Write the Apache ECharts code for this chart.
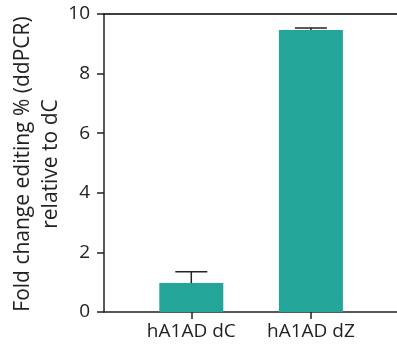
<!DOCTYPE html>
<html>
<head>
<meta charset="utf-8">
<script src="https://cdn.jsdelivr.net/npm/echarts@6/dist/echarts.min.js"></script>
<style>
  html, body { margin: 0; padding: 0; background: #fff; }
  #chart { width: 397px; height: 345px; }
</style>
</head>
<body>
<div id="chart"></div>
<script>
// data
const categories = ['hA1AD dC', 'hA1AD dZ']
const foldChange = [0.97, 9.46]
const errorUp = [0.38, 0.07]
const yTicks = [0, 2, 4, 6, 8, 10]
const yTitle = ['Fold change editing % (ddPCR)', 'relative to dC']

const barColor = '#23a599'
const ink = '#222222'
const font = 'Open Sans'

const chart = echarts.init(document.getElementById('chart'))

// bars sit on a value x axis so the axis line can run past the two bands
const barData = foldChange.map((v, i) => [i + 1, v])
const errData = foldChange.map((v, i) => [i + 1, v, v + errorUp[i]])

// rotated y title, one text per line
const titleX = [23, 51]
const titleGraphics = yTitle.map((line, i) => ({
  type: 'text',
  x: titleX[i],
  y: 164,
  rotation: Math.PI / 2,
  style: {
    text: line,
    fill: ink,
    font: `21px "${font}"`,
    textAlign: 'center',
    textVerticalAlign: 'middle',
  },
}))

const option = {
  animation: false,
  backgroundColor: '#fff',
  textStyle: { fontFamily: font },
  grid: { left: 104, right: 0, top: 14, bottom: 33, outerBoundsMode: 'none' },
  graphic: titleGraphics,
  xAxis: [
    {
      type: 'value',
      min: 0.27,
      max: 2.72,
      splitLine: { show: false },
      axisLine: { show: true, onZero: false, lineStyle: { color: ink, width: 1.5 } },
      axisTick: { show: true, length: 7, customValues: [1, 2], lineStyle: { color: ink, width: 1.5 } },
      axisLabel: {
        customValues: [1, 2],
        formatter: v => categories[Math.round(v) - 1] || '',
        color: ink,
        fontSize: 19,
        fontFamily: font,
        margin: 10,
      },
    },
    {
      // plain top rule of the frame
      type: 'value',
      position: 'top',
      min: 0.27,
      max: 2.72,
      splitLine: { show: false },
      axisLine: { show: true, onZero: false, lineStyle: { color: '#000', width: 1.5 } },
      axisTick: { show: false },
      axisLabel: { show: false },
    },
  ],
  yAxis: {
    type: 'value',
    min: 0,
    max: 10,
    interval: 2,
    splitLine: { show: false },
    axisLine: { show: true, lineStyle: { color: ink, width: 1.5 } },
    axisTick: { show: true, length: 7, customValues: yTicks, lineStyle: { color: ink, width: 1.5 } },
    axisLabel: { color: ink, fontSize: 19, fontFamily: font, margin: 14, customValues: yTicks },
  },
  series: [
    {
      type: 'bar',
      data: barData,
      barWidth: 64,
      itemStyle: { color: barColor },
    },
    {
      type: 'custom',
      data: errData,
      z: 3,
      renderItem: function (params, api) {
        const x = api.value(0)
        const lo = api.coord([x, api.value(1)])
        const hi = api.coord([x, api.value(2)])
        const half = 16
        const style = { stroke: ink, lineWidth: 1.5 }
        return {
          type: 'group',
          children: [
            { type: 'line', shape: { x1: lo[0], y1: lo[1], x2: hi[0], y2: hi[1] }, style },
            { type: 'line', shape: { x1: hi[0] - half, y1: hi[1], x2: hi[0] + half, y2: hi[1] }, style },
          ],
        }
      },
    },
  ],
}

chart.setOption(option)
</script>
</body>
</html>
